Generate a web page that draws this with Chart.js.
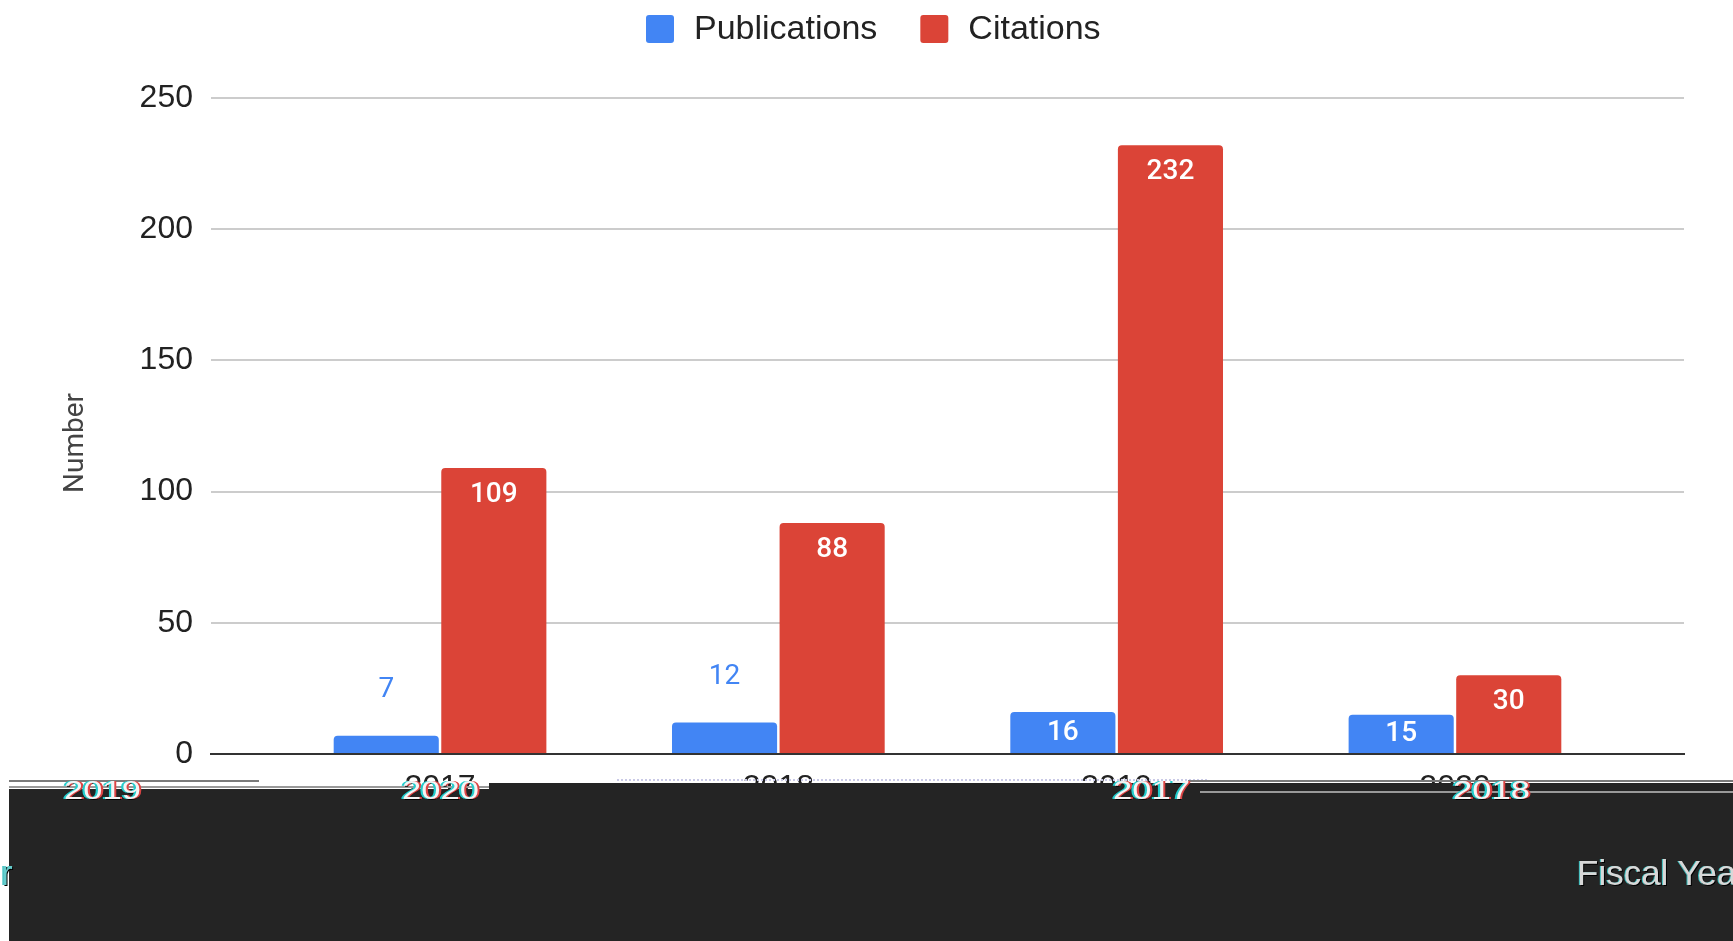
<!DOCTYPE html>
<html>
<head>
<meta charset="utf-8">
<script src="https://cdn.jsdelivr.net/npm/chart.js@4.4.1/dist/chart.umd.min.js"></script>
<style>
  html, body { margin: 0; padding: 0; background: #fff; overflow: hidden; }
  #wrap { position: relative; width: 1733px; height: 941px; overflow: hidden; }
  #c { position: absolute; left: 0; top: 0; }
  .band { position: absolute; background: #242424; }
  .rule { position: absolute; height: 2px; background: #7a7a7a; }
  .dots { position: absolute; height: 0; border-top: 2px dotted #c9c9e6; }
  .ghost {
    position: absolute; font-family: 'Liberation Sans', Arial, sans-serif;
    font-size: 32px; line-height: 1; color: #f4f4f4; white-space: nowrap;
    transform: scale(1.08, 0.8); transform-origin: left top;
    text-shadow: -2px 0 0 #2cc, 2px 0 0 #d44, 1px 2px 0 #000;
  }
  .fiscal {
    position: absolute; font-family: 'Liberation Sans', Arial, sans-serif;
    font-size: 35px; line-height: 1; color: #d8d8d8; white-space: nowrap;
    text-shadow: 1px 1px 0 #000, -1px 0 0 #3bb;
  }
</style>
</head>
<body>
<div id="wrap">
  <canvas id="c" width="1733" height="941"></canvas>
  <div class="dots" style="left:617px; top:779px; width:590px;"></div>
  <div class="rule" style="left:9px; top:780px; width:250px;"></div>
  <div class="rule" style="left:9px; top:786px; width:480px; background:#999;"></div>
  <div class="band" style="left:9px; top:789px; width:480px; bottom:0;"></div>
  <div class="band" style="left:489px; top:783px; right:0; bottom:0;"></div>
  <div class="rule" style="left:1188px; top:780px; right:0;"></div>
  <div class="rule" style="left:1200px; top:791px; right:0; background:#999;"></div>
  <div class="ghost" style="left:64px; top:777px;">2019</div>
  <div class="ghost" style="left:402px; top:777px;">2020</div>
  <div class="ghost" style="left:1113px; top:777px;">2017</div>
  <div class="ghost" style="left:1453px; top:777px;">2018</div>
  <div class="fiscal" style="left:1577px; top:855px;">Fiscal Year</div>
  <div class="fiscal" style="left:1px; top:855px; color:#6cc;">r</div>
</div>
<script>
// Yearly output figures
const categories = ['2017', '2018', '2019', '2020'];
const publications = [7, 12, 16, 15];
const citations = [109, 88, 232, 30];
const yTicks = [0, 50, 100, 150, 200, 250];

const BLUE = '#4285F4';
const RED = '#DB4437';
const TICK_FONT = "'Liberation Sans', Arial, sans-serif";

// Value labels: inside the bar top when it fits, otherwise above it
const barValueLabels = {
  id: 'barValueLabels',
  afterDatasetsDraw(chart) {
    const ctx = chart.ctx;
    chart.data.datasets.forEach((ds, di) => {
      const meta = chart.getDatasetMeta(di);
      meta.data.forEach((bar, i) => {
        const v = ds.data[i];
        const h = bar.base - bar.y;
        ctx.save();
        ctx.textAlign = 'center';
        ctx.textBaseline = 'middle';
        if (h >= 36) {
          ctx.fillStyle = '#ffffff';
          ctx.font = '500 28px Roboto';
          ctx.fillText(String(v), bar.x, bar.y + Math.min(27, h / 2));
        } else {
          ctx.fillStyle = ds.backgroundColor;
          ctx.font = '400 28px Roboto';
          ctx.fillText(String(v), bar.x, bar.y - 46);
        }
        ctx.restore();
      });
    });
  }
};

// Legend row across the top and the rotated value-axis caption
const chartText = {
  id: 'chartText',
  afterDraw(chart) {
    const ctx = chart.ctx;
    const box = 28, textGap = 20, itemGap = 43, cy = 29;
    ctx.save();
    ctx.font = '34px ' + TICK_FONT;
    let x = 646;
    chart.data.datasets.forEach(ds => {
      const w = ctx.measureText(ds.label).width;
      ctx.fillStyle = ds.backgroundColor;
      ctx.beginPath();
      ctx.roundRect(x, cy - box / 2, box, box, 3);
      ctx.fill();
      ctx.fillStyle = '#222';
      ctx.textAlign = 'left';
      ctx.textBaseline = 'middle';
      ctx.fillText(ds.label, x + box + textGap, cy + 1);
      x += box + textGap + w + itemGap;
    });
    ctx.restore();

    ctx.save();
    ctx.translate(76, 443);
    ctx.rotate(-Math.PI / 2);
    ctx.font = '28px Roboto';
    ctx.fillStyle = '#444';
    ctx.textAlign = 'center';
    ctx.textBaseline = 'middle';
    ctx.fillText('Number', 0, 0);
    ctx.restore();
  }
};

const pad = 0.677;

new Chart(document.getElementById('c'), {
  type: 'bar',
  data: {
    labels: categories,
    datasets: [
      { label: 'Publications', data: publications, backgroundColor: BLUE,
        borderRadius: { topLeft: 4, topRight: 4, bottomLeft: 0, bottomRight: 0 }, borderSkipped: 'start' },
      { label: 'Citations', data: citations, backgroundColor: RED,
        borderRadius: { topLeft: 4, topRight: 4, bottomLeft: 0, bottomRight: 0 }, borderSkipped: 'start' }
    ]
  },
  options: {
    responsive: false,
    animation: false,
    events: [],
    categoryPercentage: 0.636,
    barPercentage: 0.977,
    layout: { padding: { top: 98, right: 49, bottom: 0, left: 0 } },
    plugins: { legend: { display: false }, tooltip: { enabled: false } },
    scales: {
      x: {
        type: 'linear',
        offset: false,
        min: Number(categories[0]) - pad,
        max: Number(categories[categories.length - 1]) + pad,
        grid: { display: false, z: 1 },
        border: { display: true, color: '#333', width: 2, z: 1 },
        afterBuildTicks: s => { s.ticks = categories.map(c => ({ value: Number(c) })); },
        afterFit: s => { s.height = 187; },
        ticks: {
          padding: 7,
          color: '#222',
          font: { family: TICK_FONT, size: 32 },
          callback: v => String(v)
        }
      },
      y: {
        min: 0,
        max: 250,
        afterBuildTicks: s => { s.ticks = yTicks.map(v => ({ value: v })); },
        afterFit: s => { s.width = 211; },
        grid: {
          drawTicks: false,
          color: c => (c.tick.value === 0 ? 'rgba(0,0,0,0)' : '#cccccc'),
          lineWidth: 2
        },
        border: { display: false },
        ticks: {
          padding: 18,
          color: '#222',
          font: { family: TICK_FONT, size: 32 }
        }
      }
    }
  },
  plugins: [barValueLabels, chartText]
});
</script>
</body>
</html>
